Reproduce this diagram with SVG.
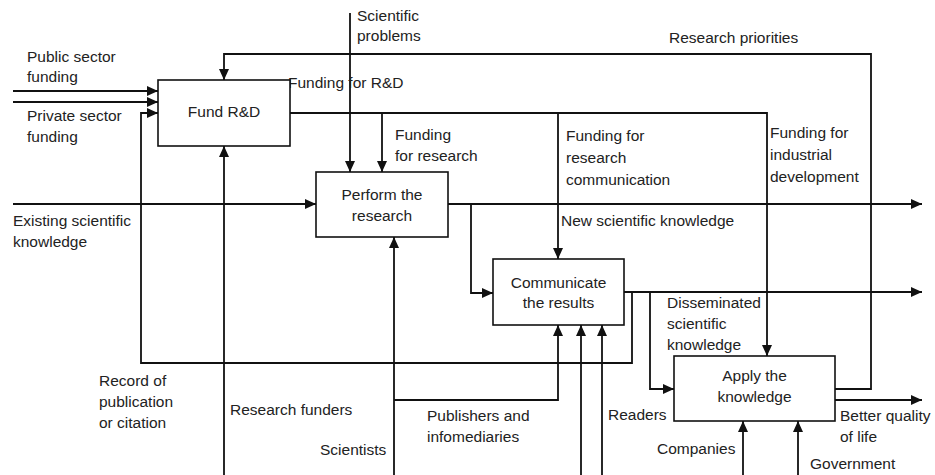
<svg xmlns="http://www.w3.org/2000/svg" width="935" height="475" viewBox="0 0 935 475">
<style>
text{font-family:"Liberation Sans",Arial,sans-serif;font-size:15.5px;fill:#222}
.c{text-anchor:middle}
.box{fill:#fff;stroke:#111;stroke-width:1.6}
.ln{fill:none;stroke:#111;stroke-width:1.8}
.ar{marker-end:url(#ah)}
</style>
<defs>
<marker id="ah" markerUnits="userSpaceOnUse" markerWidth="11" markerHeight="10" refX="11" refY="5" orient="auto">
<path d="M0,0 L11,5 L0,10 z" fill="#111"/>
</marker>
</defs>
<rect width="935" height="475" fill="#fff"/>
<g id="connectors">
<path class="ln ar" d="M13,91 H158"/>
<path class="ln ar" d="M13,102 H158"/>
<path class="ln ar" d="M632,292 V363 H141 V113 H158"/>
<path class="ln ar" d="M835,389 H871 V54 H224 V80"/>
<path class="ln ar" d="M224,475 V146"/>
<path class="ln ar" d="M290,113 H767 V356"/>
<path class="ln ar" d="M382,113 V172"/>
<path class="ln ar" d="M350,13 V172"/>
<path class="ln ar" d="M558,113 V259"/>
<path class="ln ar" d="M13,204 H316"/>
<path class="ln ar" d="M448,204 H922"/>
<path class="ln ar" d="M471,204 V293 H493"/>
<path class="ln ar" d="M624,292 H922"/>
<path class="ln ar" d="M650,292 V389 H674"/>
<path class="ln ar" d="M394,475 V237"/>
<path class="ln ar" d="M394,400 H558 V325"/>
<path class="ln ar" d="M581,475 V325"/>
<path class="ln ar" d="M602,475 V325"/>
<path class="ln ar" d="M835,400 H922"/>
<path class="ln ar" d="M743,475 V421"/>
<path class="ln ar" d="M798,475 V421"/>
</g>
<g id="labels">
<text x="27" y="62">Public sector</text>
<text x="27" y="82">funding</text>
<text x="27" y="121">Private sector</text>
<text x="27" y="142">funding</text>
<text x="288" y="88">Funding for R&amp;D</text>
<text x="357" y="21">Scientific</text>
<text x="357" y="41">problems</text>
<text x="669" y="43">Research priorities</text>
<text x="395" y="140">Funding</text>
<text x="395" y="161">for research</text>
<text x="566" y="141">Funding for</text>
<text x="566" y="163">research</text>
<text x="566" y="185">communication</text>
<text x="770" y="138">Funding for</text>
<text x="770" y="160">industrial</text>
<text x="770" y="182">development</text>
<text x="13" y="226">Existing scientific</text>
<text x="13" y="247">knowledge</text>
<text x="561" y="226">New scientific knowledge</text>
<text x="667" y="308">Disseminated</text>
<text x="667" y="329">scientific</text>
<text x="667" y="350">knowledge</text>
<text x="99" y="386">Record of</text>
<text x="99" y="407">publication</text>
<text x="99" y="428">or citation</text>
<text x="230" y="415">Research funders</text>
<text x="320" y="455">Scientists</text>
<text x="427" y="421">Publishers and</text>
<text x="427" y="442">infomediaries</text>
<text x="608" y="420">Readers</text>
<text x="840" y="421">Better quality</text>
<text x="840" y="442">of life</text>
<text x="657" y="454">Companies</text>
<text x="810" y="469">Government</text>
</g>
<g id="fund-rd">
<rect class="box" x="158" y="80" width="132" height="66"/>
<text class="c" x="224" y="117">Fund R&amp;D</text>
</g>
<g id="perform-research">
<rect class="box" x="316" y="172" width="132" height="65"/>
<text class="c" x="382" y="200">Perform the</text>
<text class="c" x="382" y="221">research</text>
</g>
<g id="communicate-results">
<rect class="box" x="493" y="259" width="131" height="66"/>
<text class="c" x="558.5" y="288">Communicate</text>
<text class="c" x="558.5" y="308">the results</text>
</g>
<g id="apply-knowledge">
<rect class="box" x="674" y="356" width="161" height="65"/>
<text class="c" x="754.5" y="381">Apply the</text>
<text class="c" x="754.5" y="402">knowledge</text>
</g>
</svg>
